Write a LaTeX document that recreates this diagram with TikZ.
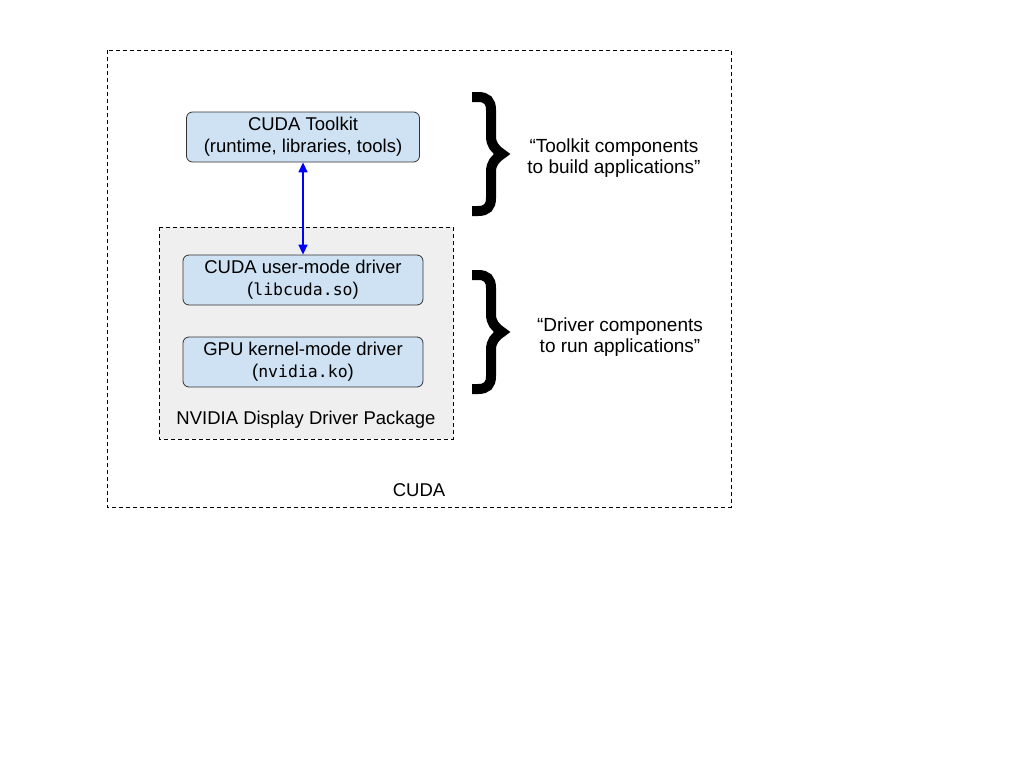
\documentclass[tikz,border=0pt]{standalone}
\usepackage{fontspec}
\setmainfont{Liberation Sans}
\setmonofont{DejaVu Sans Mono}
\usetikzlibrary{arrows.meta}
\definecolor{boxblue}{HTML}{CFE2F3}
\definecolor{pkggray}{HTML}{EFEFEF}
\tikzset{
  comp/.style={draw=black!80, fill=boxblue, rounded corners=6pt, line width=0.8pt,
    minimum width=240pt, minimum height=50pt, inner sep=0pt, align=center,
    font=\fontsize{18.5}{22}\selectfont, execute at begin node={\rule{0pt}{18pt}}},
  frame/.style={draw, line width=0.8pt, dash pattern=on 4pt off 3pt},
  note/.style={align=center, font=\fontsize{19}{21}\selectfont},
  brace/.style={line width=10pt, line join=miter},
  link/.style={blue, line width=1.5pt, {Triangle[length=10pt,width=9pt]}-{Triangle[length=10pt,width=9pt]}}
}
\newcommand{\code}[1]{{\ttfamily\fontsize{16.5}{22}\selectfont #1}}

\begin{document}
\begin{tikzpicture}[x=1pt,y=-1pt]
  \useasboundingbox (0,0) rectangle (1024,768);

  % outer frame
  \draw[frame] (107,50) rectangle (731,507);
  \node[note, font=\fontsize{18.5}{22}\selectfont] (cuda) at (419,490) {CUDA};

  % driver package
  \draw[frame, fill=pkggray] (159,227) rectangle (453,439);
  \node[note, font=\fontsize{18.5}{22}\selectfont] (pkg) at (306,420) {NVIDIA Display Driver Package};

  % components
  \node[comp, minimum width=233pt] (toolkit) at (303,137)
    {CUDA Toolkit\\(runtime, libraries, tools)};
  \node[comp] (umd) at (303,280)
    {CUDA user-mode driver\\(\code{libcuda.so})};
  \node[comp] (kmd) at (303,362)
    {GPU kernel-mode driver\\(\code{nvidia.ko})};

  % link
  \draw[link] (toolkit) -- (umd);

  % braces
  \foreach \yc in {154,332}{
    \draw[brace] (472,\yc-57) -- (478,\yc-57)
      .. controls (487,\yc-57) and (491,\yc-53) .. (491,\yc-44) -- (491,\yc-18)
      .. controls (491,\yc-9) and (495,\yc-5) .. (502,\yc)
      .. controls (495,\yc+5) and (491,\yc+9) .. (491,\yc+18) -- (491,\yc+44)
      .. controls (491,\yc+53) and (487,\yc+57) .. (478,\yc+57) -- (472,\yc+57);
  }

  % notes
  \node[note] (tnote) at (614,158) {“Toolkit components\\to build applications”};
  \node[note] (dnote) at (620,337) {“Driver components\\to run applications”};
\end{tikzpicture}
\end{document}
